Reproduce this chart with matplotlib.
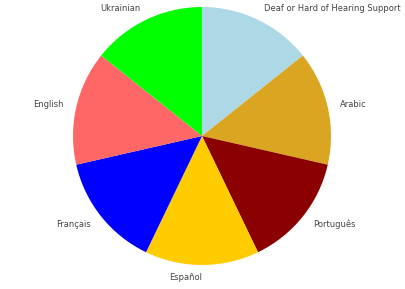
import matplotlib
matplotlib.use('Agg')
import matplotlib.pyplot as plt

# languages offered, equal share each
labels = ['Deaf or Hard of Hearing Support', 'Arabic', 'Português', 'Español',
          'Français', 'English', 'Ukrainian']
sizes = [1, 1, 1, 1, 1, 1, 1]
colors = ['#add8e6', '#daa520', '#8b0000', '#ffcc00', '#0000ff', '#ff6666', '#00ff00']

fig = plt.figure(figsize=(4.06, 2.89), dpi=100)
ax = fig.add_axes([0, 0, 1, 1])
ax.pie(sizes, labels=labels, colors=colors, startangle=90, counterclock=False,
       textprops={'fontsize': 6, 'color': '#444444'})

# place pie: center ~ (202, 136) px, radius ~129 px
r = 129
ax.set_aspect('auto')
ax.set_xlim(-202 / r, (406 - 202) / r)
ax.set_ylim(-(289 - 136) / r, 136 / r)
ax.axis('off')

fig.savefig('out.png', dpi=100)
